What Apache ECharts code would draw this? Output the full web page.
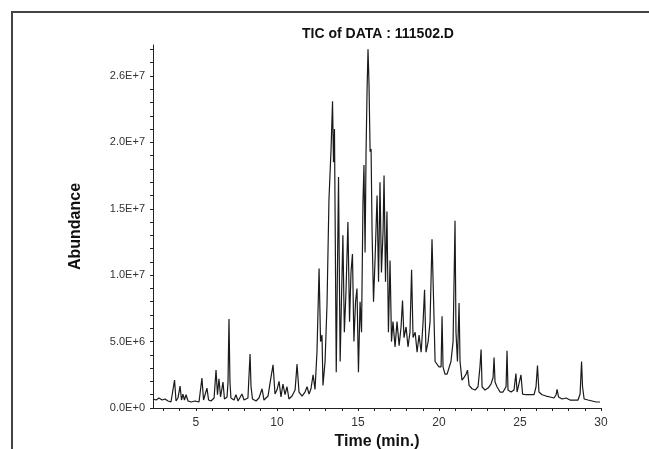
<!DOCTYPE html>
<html>
<head>
<meta charset="utf-8">
<script src="https://cdn.jsdelivr.net/npm/echarts@6/dist/echarts.min.js"></script>
<style>html,body{margin:0;padding:0;background:#fff;}#c{width:649px;height:449px;}</style>
</head>
<body>
<div id="c"></div>
<script>
// Retention time (min)
const TIMES = [2.35,2.54,2.72,2.91,3.09,3.28,3.46,3.58,3.68,3.77,3.89,4.02,4.11,4.2,4.29,4.39,4.51,4.7,4.94,5.19,5.31,5.37,5.47,5.56,5.68,5.78,5.93,6.12,6.24,6.33,6.42,6.52,6.67,6.76,6.92,6.98,7.04,7.1,7.16,7.35,7.47,7.6,7.84,7.97,8.21,8.27,8.34,8.4,8.49,8.71,8.89,9.08,9.2,9.45,9.63,9.76,9.88,10.0,10.13,10.25,10.37,10.5,10.62,10.74,10.93,11.12,11.24,11.36,11.55,11.73,11.86,11.98,12.1,12.23,12.35,12.47,12.6,12.69,12.78,12.84,12.97,13.09,13.21,13.34,13.43,13.49,13.55,13.66,13.8,13.9,13.98,14.07,14.16,14.26,14.38,14.48,14.57,14.66,14.75,14.85,14.94,15.03,15.13,15.22,15.31,15.37,15.44,15.5,15.56,15.62,15.68,15.75,15.81,15.87,15.96,16.05,16.18,16.27,16.36,16.45,16.55,16.61,16.7,16.79,16.88,16.98,17.07,17.16,17.29,17.41,17.54,17.66,17.75,17.84,17.97,18.09,18.21,18.31,18.4,18.53,18.65,18.77,18.9,19.02,19.11,19.2,19.33,19.45,19.57,19.67,19.76,19.88,20.0,20.13,20.19,20.25,20.37,20.5,20.62,20.74,20.87,20.96,20.99,21.05,21.14,21.24,21.3,21.42,21.55,21.67,21.76,21.86,22.04,22.23,22.41,22.53,22.6,22.66,22.84,23.03,23.21,23.34,23.4,23.46,23.58,23.77,23.95,24.14,24.2,24.26,24.45,24.63,24.75,24.82,24.94,25.06,25.16,25.37,25.62,25.87,25.99,26.08,26.17,26.36,26.61,26.86,27.1,27.23,27.29,27.38,27.6,27.85,27.97,28.09,28.34,28.58,28.71,28.8,28.86,28.96,29.2,29.45,29.7,29.94];
// Abundance (units of 1E6)
const ABUNDANCE = [0.68,0.6,0.75,0.6,0.68,0.53,0.45,0.53,2.1,0.53,0.75,1.65,0.6,1.05,0.6,1.0,0.53,0.45,0.53,0.45,0.53,2.25,0.6,0.75,1.5,0.6,0.53,0.75,2.85,1.0,2.2,0.83,1.95,0.68,0.83,1.95,6.7,1.95,0.75,0.6,1.0,0.53,1.05,0.6,0.75,2.3,4.07,1.6,0.68,0.53,0.75,1.45,0.6,0.9,2.3,3.25,1.05,1.35,2.0,0.83,1.8,1.0,1.6,0.68,0.9,1.35,3.3,1.2,0.9,1.2,1.6,1.05,1.45,2.5,1.4,4.2,10.5,5.0,5.5,1.7,3.5,7.8,15.7,19.5,23.1,18.5,21.0,2.7,17.4,3.5,8.0,13.0,5.7,8.7,14.0,6.5,10.2,11.6,5.0,8.0,9.0,2.7,8.0,5.7,15.5,18.3,11.7,19.3,23.8,27.0,24.5,19.3,19.5,13.3,8.0,11.0,16.0,9.5,17.0,10.2,13.3,17.5,9.5,14.8,5.7,11.1,5.0,6.5,4.6,6.5,4.7,6.1,8.1,5.3,6.1,4.6,5.7,10.4,5.3,5.7,4.2,5.5,4.2,6.5,8.9,4.2,5.0,6.5,12.7,8.0,3.5,3.5,3.1,3.1,6.9,3.1,2.55,2.55,2.7,3.5,5.0,11.7,14.1,5.7,3.5,7.9,3.5,2.1,2.3,2.55,2.85,1.7,1.45,1.35,1.6,3.1,4.4,1.6,1.35,1.5,1.8,2.3,3.8,1.95,1.6,1.2,1.2,1.6,4.3,1.35,1.2,1.35,2.6,1.2,1.2,2.5,1.05,1.0,1.0,1.0,1.6,3.2,1.2,1.0,0.9,0.83,0.75,1.0,1.4,0.83,0.68,0.75,0.83,0.6,0.6,0.6,1.05,3.5,1.6,0.68,0.6,0.53,0.45,0.45];
const Y_TICK_VALUES = [0, 5, 10, 15, 20, 25];
const Y_TICK_LABELS = ["0.0E+0", "5.0E+6", "1.0E+7", "1.5E+7", "2.0E+7", "2.6E+7"];
const Y_MINOR_TICKS = [0,1,2,3,4,5,6,7,8,9,10,11,12,13,14,15,16,17,18,19,20,21,22,23,24,25,26,27];
const X_TICK_LABELS = [5, 10, 15, 20, 25, 30];
const X_MINOR_TICKS = [3,4,5,6,7,8,9,10,11,12,13,14,15,16,17,18,19,20,21,22,23,24,25,26,27,28,29,30];

const data = TIMES.map((t, i) => [t, ABUNDANCE[i]]);
const chart = echarts.init(document.getElementById('c'), null, {renderer: 'canvas'});
const fontFam = 'Liberation Sans, Arial, sans-serif';
chart.setOption({
  animation: false,
  backgroundColor: '#fff',
  title: {
    text: 'TIC of DATA : 111502.D',
    left: 373, top: 22, textAlign: 'center',
    textStyle: {fontFamily: fontFam, fontSize: 14, fontWeight: 'bold', color: '#111'}
  },
  graphic: [{
    type: 'rect', silent: true,
    shape: {x: 12, y: 12, width: 700, height: 500},
    style: {fill: 'none', stroke: '#444', lineWidth: 2}
  }],
  grid: {left: 153, right: 48, top: 45, bottom: 41, containLabel: false, outerBoundsMode: 'none'},
  xAxis: {
    type: 'value', min: 2.35, max: 30,
    name: 'Time (min.)', nameLocation: 'middle', nameGap: 21,
    nameTextStyle: {fontFamily: fontFam, fontSize: 16, fontWeight: 'bold', color: '#111'},
    axisLine: {show: true, lineStyle: {color: '#222', width: 1}},
    axisTick: {show: true, length: 3, customValues: X_MINOR_TICKS, lineStyle: {color: '#222'}},
    axisLabel: {customValues: X_TICK_LABELS, margin: 9, fontFamily: fontFam, fontSize: 12, color: '#333'},
    splitLine: {show: false}
  },
  yAxis: {
    type: 'value', min: 0, max: 27.33,
    name: 'Abundance', nameLocation: 'middle', nameGap: 69, nameRotate: 90,
    nameTextStyle: {fontFamily: fontFam, fontSize: 16, fontWeight: 'bold', color: '#111'},
    axisLine: {show: true, lineStyle: {color: '#222', width: 1}},
    axisTick: {show: true, length: 3, customValues: Y_MINOR_TICKS, lineStyle: {color: '#222'}},
    axisLabel: {
      customValues: Y_TICK_VALUES, margin: 8, fontFamily: fontFam, fontSize: 11, color: '#333',
      formatter: v => { const i = Y_TICK_VALUES.indexOf(Math.round(v)); return i >= 0 ? Y_TICK_LABELS[i] : ''; }
    },
    splitLine: {show: false}
  },
  series: [{
    type: 'line', data: data, symbol: 'none', smooth: false,
    lineStyle: {color: '#1a1a1a', width: 1.2}
  }]
});
</script>
</body>
</html>
